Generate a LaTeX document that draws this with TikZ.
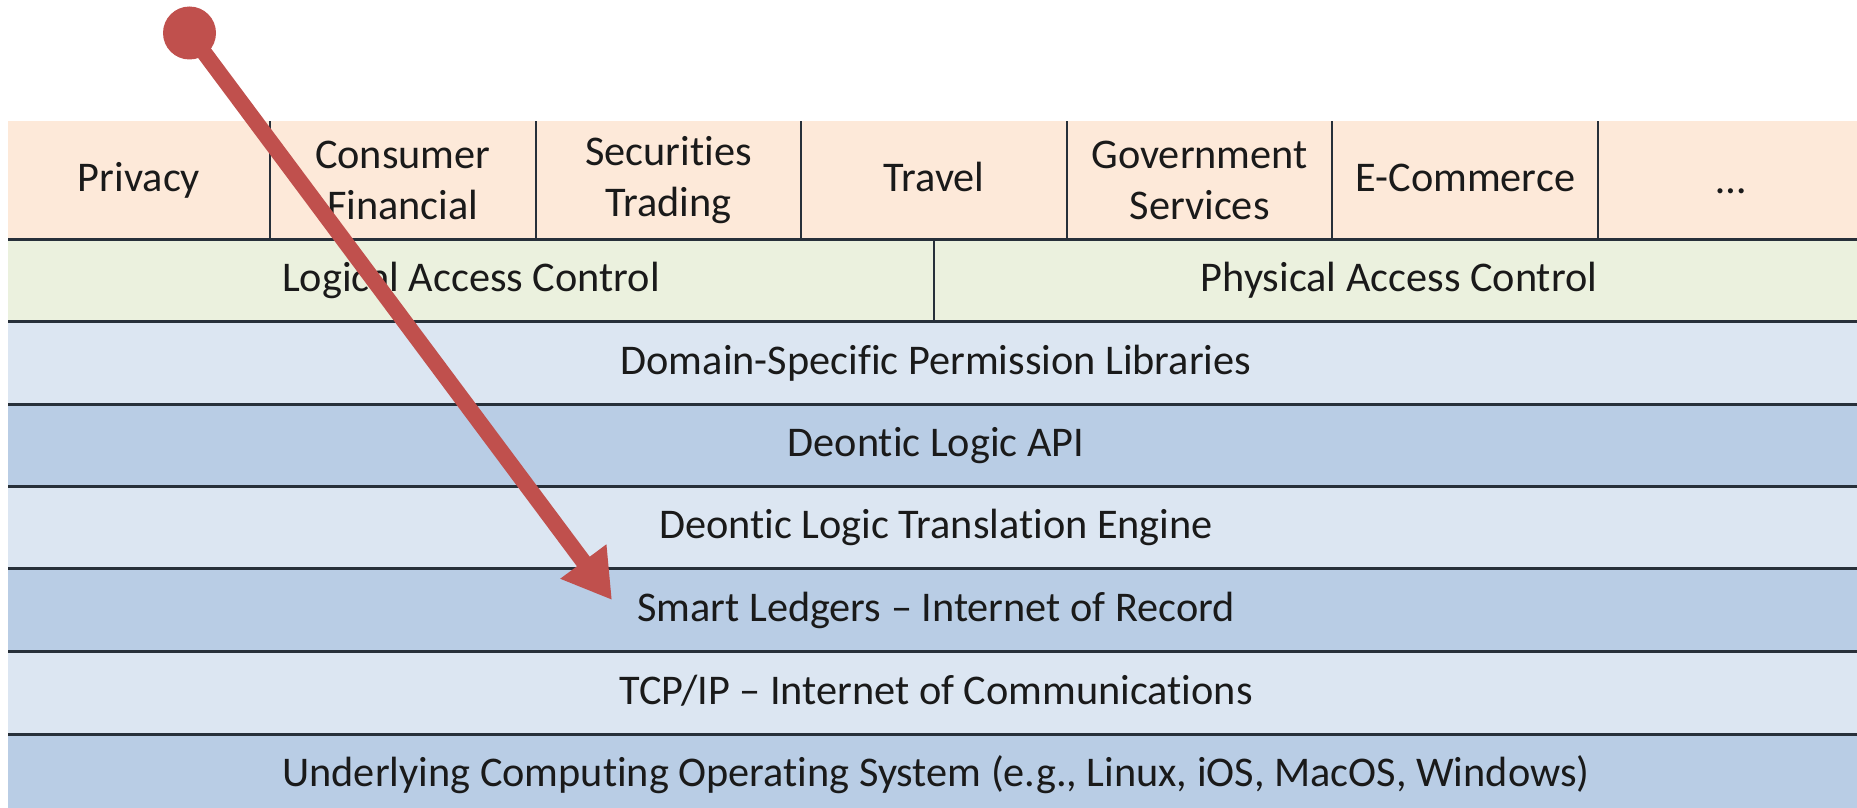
\documentclass[tikz,border=0pt]{standalone}
\usepackage{fontspec}
\setmainfont{Carlito}[Ligatures={NoCommon}]
\usetikzlibrary{arrows.meta}

\definecolor{appfill}{HTML}{FDE9D9}
\definecolor{accfill}{HTML}{EBF1DE}
\definecolor{lightband}{HTML}{DCE6F2}
\definecolor{darkband}{HTML}{B9CDE5}
\definecolor{rule}{HTML}{27303A}
\definecolor{ink}{HTML}{1A1A1A}
\definecolor{pointer}{HTML}{C0504D}

\tikzset{
  cell/.style={inner sep=0pt, outer sep=0pt, align=center, text=ink,
               font=\fontsize{42.3}{51}\selectfont},
  oneline/.style={text height=23pt, text depth=0pt},
  appcell/.style={cell, fill=appfill, minimum width=265.6pt, minimum height=118pt},
  acccell/.style={cell, oneline, fill=accfill, minimum height=82pt},
  band/.style={cell, oneline, minimum width=1856pt, minimum height=83pt},
  hrule/.style={draw=rule, line width=3pt},
  vrule/.style={draw=rule, line width=2pt},
  pointerline/.style={draw=pointer, line width=16pt,
                      -{Triangle[width=54pt, length=48pt]}},
}

\begin{document}
\begin{tikzpicture}[x=1pt, y=-1pt]
\useasboundingbox (0,0) rectangle (1857,808);
\begin{scope}
\clip (0,0) rectangle (1857,808);

% application domains
\node[appcell, oneline, minimum width=262pt] (privacy) at (139,180) {Privacy};
\node[appcell] (consumer) at (402.8,180) {Consumer\\Financial};
\node[appcell] (securities) at (668.4,180) {Securities\\Trading};
\node[appcell, oneline] (travel) at (934,180) {Travel};
\node[appcell] (government) at (1199.6,180) {Government\\Services};
\node[appcell, oneline] (ecommerce) at (1465.2,180) {E-Commerce};
\node[appcell, oneline] (more) at (1730.8,180) {\raisebox{-2pt}{\dots}};

% access control
\node[acccell, minimum width=926pt] (logical) at (471,280) {Logical Access Control};
\node[acccell, minimum width=930pt] (physical) at (1399,280) {Physical Access Control};

% stack layers
\node[band, fill=lightband] (domain) at (936,362.5) {Domain-Specific Permission Libraries};
\node[band, fill=darkband] (api) at (936,445) {Deontic Logic API};
\node[band, fill=lightband] (engine) at (936,527) {Deontic Logic Translation Engine};
\node[band, fill=darkband] (ledgers) at (936,609.5) {Smart Ledgers – Internet of Record};
\node[band, fill=lightband] (tcpip) at (936,692.5) {TCP/IP – Internet of Communications};
\node[band, fill=darkband] (os) at (936,775) {Underlying Computing Operating System (e.g., Linux, iOS, MacOS, Windows)};

% cell dividers
\foreach \c in {consumer, securities, travel, government, ecommerce, more}
  \draw[vrule] (\c.north west) -- (\c.south west);
\draw[vrule] (physical.north west) -- (physical.south west);

% layer separators
\draw[hrule] (privacy.south west) -- (more.south east);
\draw[hrule] (logical.south west) -- (physical.south east);
\foreach \b in {domain, api, engine, ledgers, tcpip}
  \draw[hrule] (\b.south west) -- (\b.south east);

% pointer
\node[circle, fill=pointer, minimum size=53pt, inner sep=0pt] (dot) at (189.5,33) {};
\coordinate (tip) at (612,600);
\draw[pointerline] (dot.center) -- (tip);
\end{scope}
\end{tikzpicture}
\end{document}
